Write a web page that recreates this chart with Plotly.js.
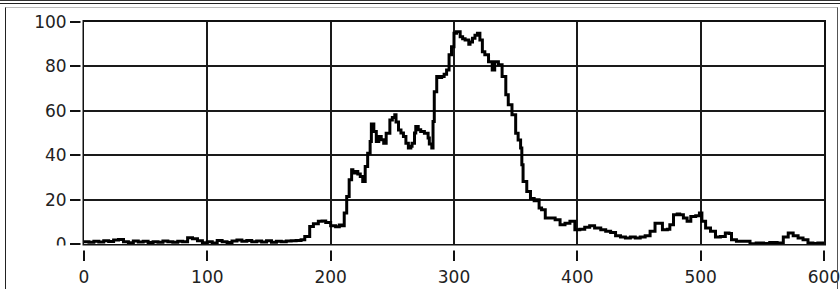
<!DOCTYPE html>
<html>
<head>
<meta charset="utf-8">
<script src="https://cdn.plot.ly/plotly-3.0.1.min.js"></script>
<style>
  html, body { margin: 0; padding: 0; background: #fff; }
  #wrap { position: relative; width: 840px; height: 289px; overflow: hidden; background: #fff; }
  #chart { position: absolute; left: 0; top: 0; width: 840px; height: 289px; }
  #topline { position: absolute; left: 0; top: 0; width: 840px; height: 2px;
             border-top: 1px solid #333; border-bottom: 1.5px solid #222; pointer-events: none; }
  #panel { position: absolute; left: 5px; top: 7px; width: 831px; height: 300px;
           border-left: 1.5px solid #222; border-top: 1px solid #bbb; border-right: 1px solid #555;
           pointer-events: none; }
</style>
</head>
<body>
<div id="wrap">
  <div id="chart"></div>
  <div id="topline"></div>
  <div id="panel"></div>
</div>
<script>
// Samples (x positions) and signal values
const xValues = [
  0, 4, 8, 12, 16, 20, 24, 28, 32, 36, 40, 44, 48, 52, 56, 60, 64, 68, 72, 76,
  80, 84, 88, 92, 96, 100, 104, 108, 112, 116, 120, 124, 128, 132, 136, 140, 144, 148, 152, 156,
  160, 164, 168, 172, 176, 179, 183, 186, 190, 193, 196, 200, 204, 207, 209, 211, 213, 215, 217, 218,
  220, 222, 224, 226, 228, 230, 232, 233, 235, 237, 239, 241, 243, 245, 248, 250, 252, 253, 255, 257,
  259, 261, 263, 265, 266, 268, 269, 271, 273, 276, 279, 280, 282, 283, 284, 286, 288, 290, 292, 294,
  296, 298, 300, 302, 305, 307, 309, 312, 313, 315, 317, 319, 321, 323, 325, 328, 331, 333, 336, 339,
  342, 344, 347, 350, 352, 354, 355, 356, 359, 362, 365, 367, 369, 371, 374, 378, 382, 386, 390, 394,
  398, 402, 406, 410, 414, 419, 423, 427, 431, 435, 439, 443, 447, 451, 455, 459, 463, 466, 469, 473,
  475, 478, 481, 483, 486, 489, 492, 496, 499, 501, 504, 508, 512, 516, 520, 523, 525, 529, 535, 540,
  545, 551, 556, 562, 567, 571, 575, 579, 583, 587, 591, 595, 600
];
const signalValues = [
  1.0, 0.8, 1.2, 0.9, 1.5, 1.1, 1.8, 2.0, 1.0, 0.6, 1.3, 0.9, 1.2, 0.7, 1.0, 0.8, 1.4, 1.0, 0.8, 1.2,
  1.0, 2.8, 2.4, 1.5, 0.6, 1.0, 0.5, 1.6, 1.0, 0.7, 1.4, 1.8, 1.2, 1.6, 1.0, 1.3, 0.9, 1.5, 0.8, 1.2,
  1.0, 1.4, 1.5, 1.6, 1.9, 3.4, 7.9, 9.1, 10.2, 10.4, 9.7, 8.2, 7.8, 8.6, 8.2, 14.0, 21.4, 28.9, 33.4, 32.0,
  32.7, 31.5, 30.4, 28.2, 34.9, 40.9, 46.2, 54.1, 50.7, 46.2, 48.4, 47.0, 45.4, 49.9, 55.9, 57.0, 58.2, 55.0, 51.4, 50.0,
  48.4, 45.4, 43.2, 44.0, 45.4, 50.0, 52.9, 51.5, 50.7, 49.9, 47.7, 45.0, 43.2, 55.2, 68.6, 75.4, 75.0, 75.4, 76.5, 78.4,
  85.2, 88.9, 94.9, 95.6, 93.4, 92.5, 91.9, 90.0, 91.0, 92.7, 94.0, 94.9, 91.9, 86.6, 85.2, 82.1, 78.4, 82.1, 80.7, 75.4,
  67.2, 62.7, 58.2, 49.9, 46.9, 43.2, 35.7, 28.2, 23.7, 20.5, 19.5, 19.9, 16.2, 15.4, 11.7, 11.7, 10.9, 8.7, 9.4, 10.2,
  6.4, 6.7, 7.6, 8.2, 7.2, 6.4, 5.7, 5.2, 3.7, 3.1, 2.7, 3.1, 2.7, 3.1, 3.7, 5.7, 9.4, 9.4, 6.4, 6.7,
  8.7, 13.2, 13.5, 13.2, 11.7, 10.2, 12.4, 12.7, 14.0, 10.2, 7.2, 5.7, 3.1, 3.4, 4.9, 4.7, 1.9, 1.2, 1.2, 0.1,
  0.4, 0.2, 0.7, 0.4, 3.1, 4.9, 3.7, 2.7, 1.9, 0.4, 0.2, 0.4, 0.4
];
const xTicks = [0, 100, 200, 300, 400, 500, 600];
const yTicks = [0, 20, 40, 60, 80, 100];

const trace = {
  x: xValues,
  y: signalValues,
  type: 'scatter',
  mode: 'lines',
  line: { color: '#000', width: 3, shape: 'hv' },
  hoverinfo: 'skip'
};

const M = { l: 84, r: 16, t: 22, b: 45 };
const plotH = 289 - M.t - M.b;
const plotW = 840 - M.l - M.r;
const layout = {
  width: 840,
  height: 289,
  margin: { l: M.l, r: M.r, t: M.t, b: M.b, pad: 0 },
  paper_bgcolor: 'rgba(0,0,0,0)',
  plot_bgcolor: '#fff',
  showlegend: false,
  font: { family: 'DejaVu Sans', size: 17, color: '#222' },
  xaxis: {
    range: [0, 600],
    tickvals: xTicks,
    ticktext: xTicks.map(String),
    ticks: 'outside', ticklen: 15, tickwidth: 2, tickcolor: '#111',
    ticklabelstandoff: 2,
    ticklabeloverflow: 'allow',
    showgrid: true, gridcolor: '#1a1a1a', gridwidth: 2,
    showline: true, linecolor: '#111', linewidth: 2, mirror: true,
    zeroline: false,
    tickfont: { family: 'DejaVu Sans', size: 17, color: '#222' }
  },
  yaxis: {
    range: [0, 100],
    tickvals: yTicks,
    ticktext: yTicks.map(String),
    ticks: 'outside', ticklen: 12, tickwidth: 2, tickcolor: '#111',
    ticklabeloverflow: 'allow',
    showgrid: true, gridcolor: '#1a1a1a', gridwidth: 2,
    showline: true, linecolor: '#111', linewidth: 2, mirror: true,
    zeroline: false,
    tickfont: { family: 'DejaVu Sans', size: 17, color: '#222' }
  },
  shapes: [
    // gaps between axis frame and the detached tick marks (LabVIEW style)
    { type: 'rect', xref: 'paper', yref: 'paper', layer: 'above',
      x0: -0.2, x1: 1.2, y0: -6.5 / plotH, y1: -1.5 / plotH,
      fillcolor: '#fff', line: { width: 0 } },
    { type: 'rect', xref: 'paper', yref: 'paper', layer: 'above',
      x0: -3.5 / plotW, x1: -1.5 / plotW, y0: -0.1, y1: 1.1,
      fillcolor: '#fff', line: { width: 0 } }
  ]
};

Plotly.newPlot('chart', [trace], layout, { displayModeBar: false, staticPlot: true });
</script>
</body>
</html>
